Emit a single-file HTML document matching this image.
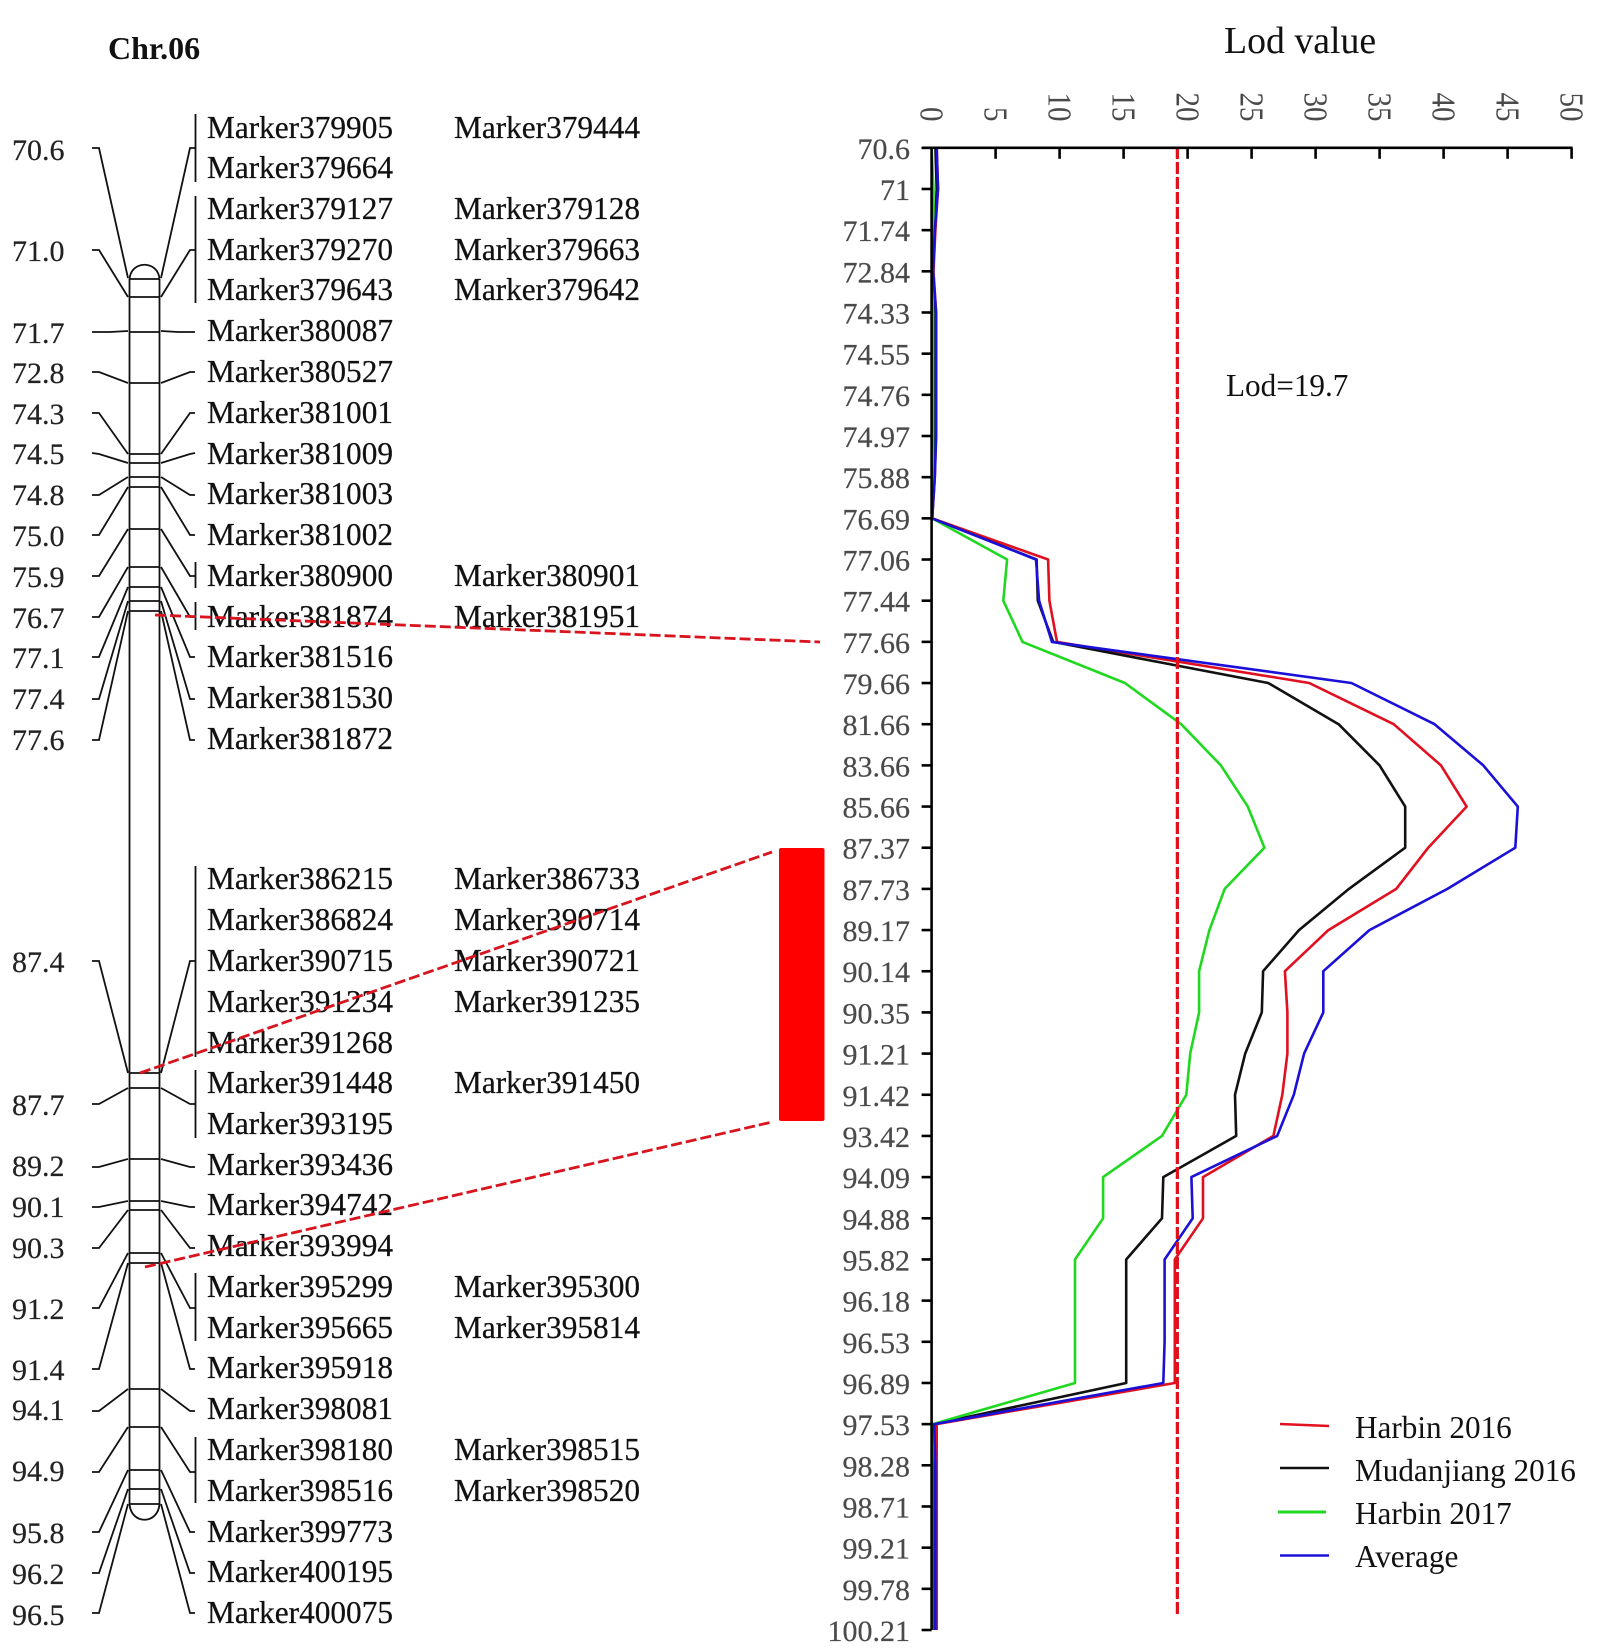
<!DOCTYPE html>
<html lang="en">
<head>
<meta charset="utf-8">
<title>Chr.06 linkage map and LOD profile</title>
<style>
html,body{margin:0;padding:0;background:#fff;}
svg{display:block;font-family:"Liberation Serif",serif;}
.lk{fill:none;stroke:#111;stroke-width:1.8;}
.pos{font-size:30px;fill:#222;stroke:#222;stroke-width:.2;}
.mk{font-size:31.3px;fill:#111;stroke:#111;stroke-width:.25;}
.hl{fill:none;stroke:#d8141e;stroke-width:2.8;stroke-dasharray:11 4;}
</style>
</head>
<body>
<svg id="figure" xmlns="http://www.w3.org/2000/svg" width="1603" height="1648" viewBox="0 0 1603 1648">
<rect x="0" y="0" width="1603" height="1648" fill="#fff"/>
<text x="108" y="59" font-size="32" font-weight="bold" fill="#111">Chr.06</text>

<g class="lk">
<path d="M129.5 279 C131 260 158 260 159.5 279"/>
<path d="M129.5 1504 C131 1525 158 1525 159.5 1504"/>
<line x1="129.5" y1="279" x2="129.5" y2="1504"/>
<line x1="159.5" y1="279" x2="159.5" y2="1504"/>
<path d="M129.5 279H159.5M129.5 297H159.5M129.5 332H159.5M129.5 383H159.5M129.5 454H159.5M129.5 463H159.5M129.5 477H159.5M129.5 487H159.5M129.5 529H159.5M129.5 567H159.5M129.5 587H159.5M129.5 601H159.5M129.5 611H159.5M129.5 1073H159.5M129.5 1088H159.5M129.5 1159H159.5M129.5 1201H159.5M129.5 1210H159.5M129.5 1253H159.5M129.5 1263H159.5M129.5 1389H159.5M129.5 1427H159.5M129.5 1470H159.5M129.5 1489H159.5M129.5 1504H159.5"/>
</g>

<g class="lk">
<polyline points="92,148 99,148 128,278"/>
<polyline points="92,250 99,250 128,297"/>
<polyline points="92,332 110,332 128,331"/>
<polyline points="92,372 99,372 128,383"/>
<polyline points="92,413 99,413 128,454"/>
<polyline points="92,453 99,454 128,463"/>
<polyline points="92,495 99,495 128,477"/>
<polyline points="92,535 99,535 128,487"/>
<polyline points="92,576 99,576 128,529"/>
<polyline points="92,617 99,617 128,567"/>
<polyline points="92,657 99,657 128,587"/>
<polyline points="92,699 99,699 128,601"/>
<polyline points="92,740 99,740 128,611"/>
<polyline points="92,961 99,961 128,1073"/>
<polyline points="92,1104 99,1104 128,1088"/>
<polyline points="92,1167 99,1167 128,1159"/>
<polyline points="92,1207 99,1207 128,1201"/>
<polyline points="92,1248 99,1248 128,1210"/>
<polyline points="92,1308 99,1308 128,1253"/>
<polyline points="92,1369 99,1369 128,1263"/>
<polyline points="92,1411 99,1411 128,1389"/>
<polyline points="92,1472 99,1472 128,1427"/>
<polyline points="92,1532 99,1532 128,1470"/>
<polyline points="92,1573 99,1573 128,1489"/>
<polyline points="92,1613 99,1613 128,1504"/>
</g>

<g class="lk">
<polyline points="161,278 190,148 195,148"/>
<polyline points="161,297 190,250 195,250"/>
<polyline points="161,331 178,332 195,332"/>
<polyline points="161,383 190,372 195,372"/>
<polyline points="161,454 190,413 195,413"/>
<polyline points="161,463 190,454 195,453"/>
<polyline points="161,477 190,495 195,495"/>
<polyline points="161,487 190,535 195,535"/>
<polyline points="161,529 190,576 195,576"/>
<polyline points="161,567 190,617 195,617"/>
<polyline points="161,587 190,657 195,657"/>
<polyline points="161,601 190,699 195,699"/>
<polyline points="161,611 190,740 195,740"/>
<polyline points="161,1073 190,961 195,961"/>
<polyline points="161,1088 190,1104 195,1104"/>
<polyline points="161,1159 190,1167 195,1167"/>
<polyline points="161,1201 190,1207 195,1207"/>
<polyline points="161,1210 190,1248 195,1248"/>
<polyline points="161,1253 190,1308 195,1308"/>
<polyline points="161,1263 190,1369 195,1369"/>
<polyline points="161,1389 190,1411 195,1411"/>
<polyline points="161,1427 190,1472 195,1472"/>
<polyline points="161,1470 190,1532 195,1532"/>
<polyline points="161,1489 190,1573 195,1573"/>
<polyline points="161,1504 190,1613 195,1613"/>
<path d="M195.5 114V182M195.5 196V303M195.5 562V588M195.5 602V630M195.5 866V1057M195.5 1070V1138M195.5 1273V1341M195.5 1437V1503"/>
</g>

<g class="pos">
<text x="12" y="160">70.6</text>
<text x="12" y="261">71.0</text>
<text x="12" y="343">71.7</text>
<text x="12" y="383">72.8</text>
<text x="12" y="424">74.3</text>
<text x="12" y="464">74.5</text>
<text x="12" y="505">74.8</text>
<text x="12" y="546">75.0</text>
<text x="12" y="587">75.9</text>
<text x="12" y="628">76.7</text>
<text x="12" y="668">77.1</text>
<text x="12" y="709">77.4</text>
<text x="12" y="750">77.6</text>
<text x="12" y="972">87.4</text>
<text x="12" y="1115">87.7</text>
<text x="12" y="1176">89.2</text>
<text x="12" y="1217">90.1</text>
<text x="12" y="1258">90.3</text>
<text x="12" y="1319">91.2</text>
<text x="12" y="1380">91.4</text>
<text x="12" y="1420">94.1</text>
<text x="12" y="1481">94.9</text>
<text x="12" y="1543">95.8</text>
<text x="12" y="1584">96.2</text>
<text x="12" y="1625">96.5</text>
</g>

<g class="mk">
<text x="207" y="138">Marker379905</text>
<text x="454" y="138">Marker379444</text>
<text x="207" y="178">Marker379664</text>
<text x="207" y="219">Marker379127</text>
<text x="454" y="219">Marker379128</text>
<text x="207" y="260">Marker379270</text>
<text x="454" y="260">Marker379663</text>
<text x="207" y="300">Marker379643</text>
<text x="454" y="300">Marker379642</text>
<text x="207" y="341">Marker380087</text>
<text x="207" y="382">Marker380527</text>
<text x="207" y="423">Marker381001</text>
<text x="207" y="464">Marker381009</text>
<text x="207" y="504">Marker381003</text>
<text x="207" y="545">Marker381002</text>
<text x="207" y="586">Marker380900</text>
<text x="454" y="586">Marker380901</text>
<text x="207" y="627">Marker381874</text>
<text x="454" y="627">Marker381951</text>
<text x="207" y="667">Marker381516</text>
<text x="207" y="708">Marker381530</text>
<text x="207" y="749">Marker381872</text>
<text x="207" y="889">Marker386215</text>
<text x="454" y="889">Marker386733</text>
<text x="207" y="930">Marker386824</text>
<text x="454" y="930">Marker390714</text>
<text x="207" y="971">Marker390715</text>
<text x="454" y="971">Marker390721</text>
<text x="207" y="1012">Marker391234</text>
<text x="454" y="1012">Marker391235</text>
<text x="207" y="1053">Marker391268</text>
<text x="207" y="1093">Marker391448</text>
<text x="454" y="1093">Marker391450</text>
<text x="207" y="1134">Marker393195</text>
<text x="207" y="1175">Marker393436</text>
<text x="207" y="1215">Marker394742</text>
<text x="207" y="1256">Marker393994</text>
<text x="207" y="1297">Marker395299</text>
<text x="454" y="1297">Marker395300</text>
<text x="207" y="1338">Marker395665</text>
<text x="454" y="1338">Marker395814</text>
<text x="207" y="1378">Marker395918</text>
<text x="207" y="1419">Marker398081</text>
<text x="207" y="1460">Marker398180</text>
<text x="454" y="1460">Marker398515</text>
<text x="207" y="1501">Marker398516</text>
<text x="454" y="1501">Marker398520</text>
<text x="207" y="1542">Marker399773</text>
<text x="207" y="1582">Marker400195</text>
<text x="207" y="1623">Marker400075</text>
</g>

<line class="hl" x1="155" y1="615" x2="820" y2="642"/>
<line class="hl" x1="140" y1="1073" x2="772" y2="852"/>
<line class="hl" x1="145" y1="1267" x2="772" y2="1122"/>
<rect x="779" y="848" width="45.5" height="273" rx="2" fill="#ff0000"/>

<text x="1224" y="53" font-size="37.8" fill="#111">Lod value</text>
<text x="1226" y="396" font-size="31.2" fill="#111">Lod=19.7</text>

<g id="chart"></g>

<g font-size="31.2" fill="#111">
<line x1="1280" y1="1424" x2="1329" y2="1426" stroke="#e01020" stroke-width="2.6"/>
<text x="1355" y="1438">Harbin 2016</text>
<line x1="1280" y1="1468" x2="1329" y2="1468" stroke="#111" stroke-width="2.6"/>
<text x="1355" y="1481">Mudanjiang 2016</text>
<line x1="1278" y1="1512" x2="1326" y2="1512" stroke="#20d820" stroke-width="3"/>
<text x="1355" y="1524">Harbin 2017</text>
<line x1="1280" y1="1555.5" x2="1329" y2="1555.5" stroke="#1a10d8" stroke-width="2.6"/>
<text x="1355" y="1567">Average</text>
</g>
</svg>

<script>
const positions = ["70.6","71","71.74","72.84","74.33","74.55","74.76","74.97","75.88","76.69","77.06","77.44","77.66","79.66","81.66","83.66","85.66","87.37","87.73","89.17","90.14","90.35","91.21","91.42","93.42","94.09","94.88","95.82","96.18","96.53","96.89","97.53","98.28","98.71","99.21","99.78","100.21"];
const lodTicks = [0,5,10,15,20,25,30,35,40,45,50];
const harbin2016 = [0.4,0.5,0.3,0.15,0.35,0.35,0.35,0.35,0.25,0.05,9.1,9.2,9.8,29.5,36.1,39.8,41.8,38.8,36.3,31,27.6,27.8,27.8,27.4,26.7,21.2,21.2,19,19,19,19,0.4,0.4,0.4,0.4,0.4,0.4];
const mudanjiang2016 = [0.3,0.4,0.25,0.1,0.3,0.3,0.3,0.3,0.2,0.05,8.2,8.3,9.5,26.3,31.8,35,37,37,32.6,28.7,25.9,25.8,24.5,23.7,23.8,18.1,18,15.2,15.2,15.2,15.2,0.2,0.2,0.2,0.2,0.2,0.2];
const harbin2017 = [0,0.15,0.15,0.05,0.1,0.1,0.1,0.1,0.1,0.05,5.9,5.6,7.1,15.1,19.5,22.6,24.7,26,22.9,21.7,20.9,20.9,20.2,19.9,18,13.4,13.4,11.2,11.2,11.2,11.2,0.1,0.05,0.05,0.05,0.05,0.05];
const average = [0.4,0.5,0.25,0.12,0.35,0.35,0.35,0.35,0.25,0.05,8.16,8.4,9.4,32.8,39.3,43.1,45.8,45.6,40.3,34.2,30.6,30.6,29.1,28.3,27,20.3,20.4,18.2,18.2,18.2,18.1,0.2,0.3,0.3,0.3,0.3,0.3];
const thresholdValue = [19.2];

const NS = "http://www.w3.org/2000/svg";
const chart = document.getElementById("chart");
const xOf = function (v) { return 931.6 + (v / 50) * 640; };
const yOf = function (i) { return 147.8 + (i / (positions.length - 1)) * 1482.2; };

function make(tag, attrs, parent) {
  const el = document.createElementNS(NS, tag);
  Object.keys(attrs).forEach(function (k) { el.setAttribute(k, attrs[k]); });
  parent.appendChild(el);
  return el;
}

const plotSeries = [
  { key: "harbin-2016", values: harbin2016, color: "#e01020", width: 2.6 },
  { key: "mudanjiang-2016", values: mudanjiang2016, color: "#111111", width: 2.6 },
  { key: "harbin-2017", values: harbin2017, color: "#20d820", width: 2.6 },
  { key: "average", values: average, color: "#1a10d8", width: 2.6 }
];

plotSeries.forEach(function (s) {
  const line = make("polyline", { points: s.values.map(function (v, i) { return xOf(v).toFixed(1) + "," + yOf(i).toFixed(1); }).join(" "), fill: "none", stroke: s.color, "stroke-width": s.width, "stroke-linejoin": "round" }, chart);
  
  
});

const threshold = make("line", { x1: xOf(thresholdValue[0]), y1: 147, x2: xOf(thresholdValue[0]), y2: 1615, stroke: "#e0101a", "stroke-width": 3.2, "stroke-dasharray": "12 3" }, chart);



const yAxis = make("line", { x1: xOf(0), y1: yOf(0), x2: xOf(0), y2: yOf(positions.length - 1), stroke: "#000", "stroke-width": 2.6 }, chart);



const xAxis = make("line", { x1: xOf(0) - 10, y1: yOf(0), x2: xOf(50) + 1, y2: yOf(0), stroke: "#000", "stroke-width": 2.6 }, chart);



positions.forEach(function (label, i) {
  const tick = make("line", { x1: xOf(0) - 10, y1: yOf(i), x2: xOf(0), y2: yOf(i), stroke: "#000", "stroke-width": 2.6 }, chart);
  
  
  const text = make("text", { x: 910, y: yOf(i) + 11, "text-anchor": "end", "font-size": 30, fill: "#4a4a4a", stroke: "#4a4a4a", "stroke-width": 0.2 }, chart);
  text.textContent = label;
  
  
});

lodTicks.forEach(function (v) {
  if (v > 0) {
    const tick = make("line", { x1: xOf(v), y1: yOf(0), x2: xOf(v), y2: yOf(0) + 11, stroke: "#000", "stroke-width": 2.6 }, chart);
    
    
  }
  const text = make("text", { transform: "translate(" + (xOf(v) - 11) + " 121.5) rotate(90) scale(1 1.15)", "text-anchor": "end", "font-size": 29, fill: "#4a4a4a" }, chart);
  text.textContent = String(v);
  
  
});
</script>
</body>
</html>
